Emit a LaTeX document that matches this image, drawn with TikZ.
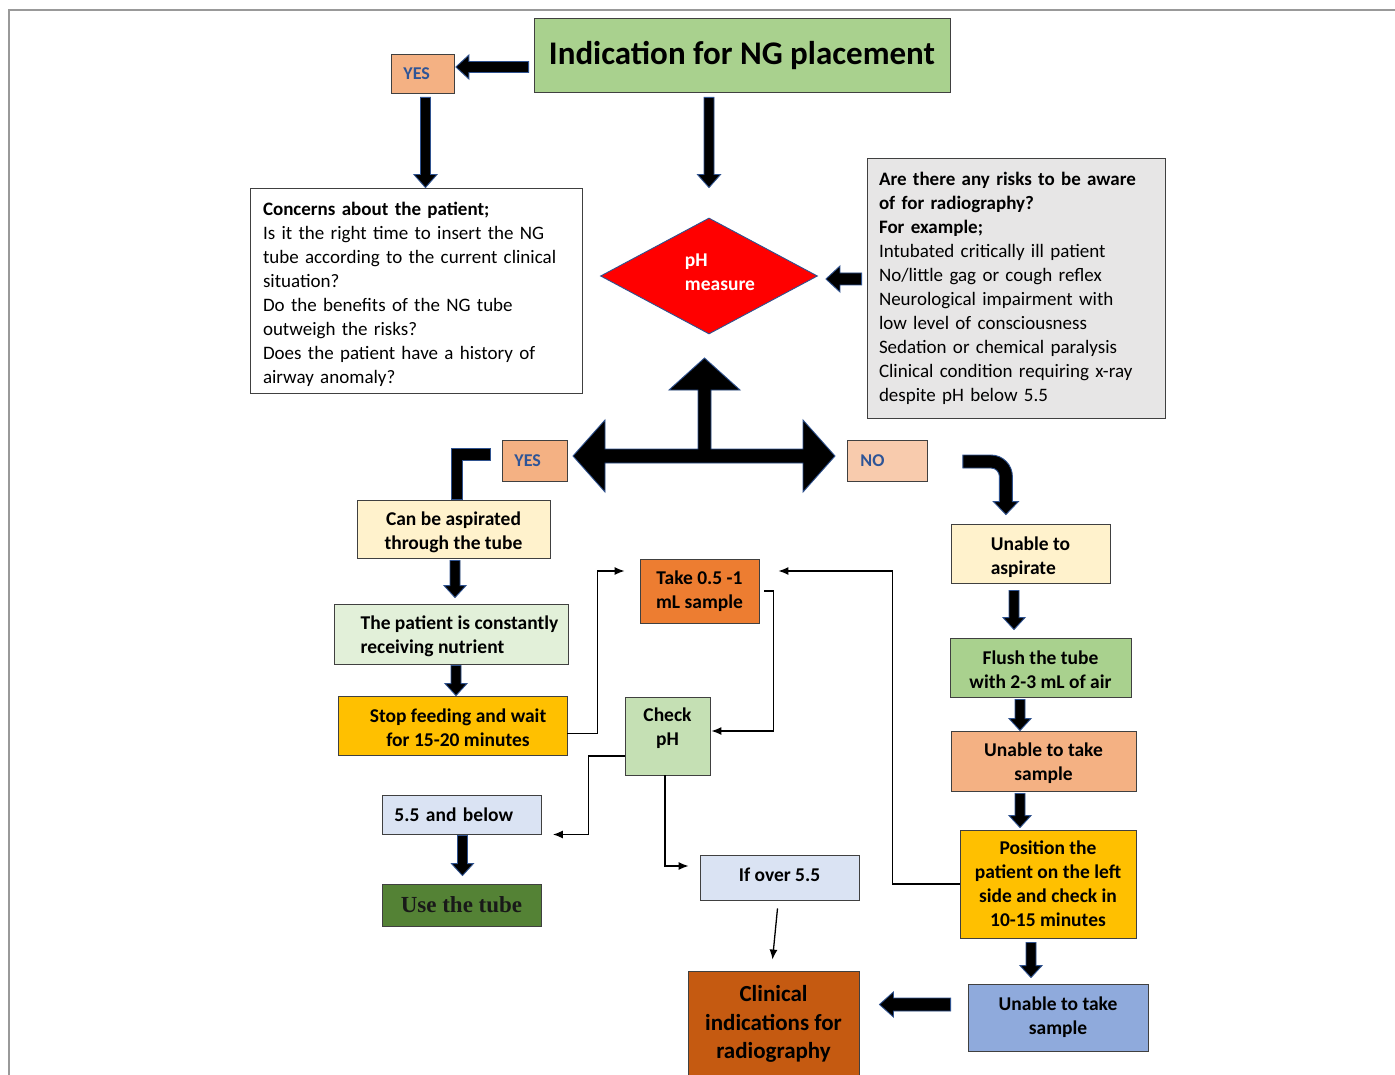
\documentclass[tikz,border=0pt]{standalone}
\usepackage{fontspec}
\setmainfont{Carlito}
\newfontfamily\serifbold{Liberation Serif}
\usetikzlibrary{calc,shapes.geometric,arrows.meta}
\definecolor{cTitle}{HTML}{A9D18E}
\definecolor{cOr1}{HTML}{F4B183}
\definecolor{cPeach}{HTML}{F8CBAD}
\definecolor{cCream}{HTML}{FFF2CC}
\definecolor{cLGreen}{HTML}{E2F0D9}
\definecolor{cGold}{HTML}{FFC000}
\definecolor{cOrange}{HTML}{ED7D31}
\definecolor{cCheck}{HTML}{C5E0B4}
\definecolor{cPale}{HTML}{DAE3F3}
\definecolor{cDGreen}{HTML}{548235}
\definecolor{cRust}{HTML}{C55A11}
\definecolor{cBlue}{HTML}{8FAADC}
\definecolor{cGray}{HTML}{E7E6E6}
\definecolor{cArr}{HTML}{2F528F}
\definecolor{cYN}{HTML}{2F5597}
\newcommand\darr[5]{\draw[blk] let \p1=(#1), \p2=(#2) in (\x1-#3pt,\y1) -- (\x1-#3pt,\y2+#5pt) -- (\x1-#4pt,\y2+#5pt) -- (\x1,\y2) -- (\x1+#4pt,\y2+#5pt) -- (\x1+#3pt,\y2+#5pt) -- (\x1+#3pt,\y1) -- cycle;}
\newcommand\larr[5]{\draw[blk] let \p1=(#1), \p2=(#2) in (\x1,\y1+#3pt) -- (\x2+#5pt,\y1+#3pt) -- (\x2+#5pt,\y1+#4pt) -- (\x2,\y1) -- (\x2+#5pt,\y1-#4pt) -- (\x2+#5pt,\y1-#3pt) -- (\x1,\y1-#3pt) -- cycle;}
\begin{document}
\begin{tikzpicture}[x=1pt,y=-1pt,
 bx/.style={draw=black!75, line width=0.9pt, inner sep=0pt, align=center, font=\bfseries\fontsize{19.5}{24}\selectfont},
 wh/.style 2 args={minimum width=#1pt, minimum height=#2pt},
 yn/.style={draw=black!75, line width=0.9pt, inner xsep=12pt, inner ysep=0pt, text=cYN, font=\bfseries\fontsize{18}{22}\selectfont, anchor=west, align=left},
 blk/.style={fill=black, draw=cArr, line width=0.9pt, line join=miter},
 con/.style={draw=black, line width=1.3pt, -{Latex[length=10pt,width=8pt]}},
 txtbox/.style={draw=black!75, line width=0.9pt, inner ysep=0pt, align=left, font=\fontsize{19}{24}\selectfont}
]
\useasboundingbox (0,0) rectangle (1395,1075);
\fill[white] (0,0) rectangle (1395,1075);
\draw[black!40, line width=2pt] (9,1075) -- (9,10) -- (1395,10);

% nodes
\node[bx, fill=cTitle, wh={416}{74}, font=\bfseries\fontsize{33}{40}\selectfont] (title) at (742,55) {Indication for NG placement};
\node[yn, fill=cOr1, text width=39pt, minimum height=39pt] (yes1) at (391,73.5) {YES};
\node[txtbox, fill=white, inner xsep=13pt, text width=306pt, minimum height=205pt] (concern) at (416,290.5)
 {\textbf{\rule{0pt}{21pt}Concerns about the patient;}\\Is it the right time to insert the NG\\tube according to the current clinical\\situation?\\Do the benefits of the NG tube\\outweigh the risks?\\Does the patient have a history of\\airway anomaly?};
\node[diamond, draw=cArr, fill=red, line width=0.9pt, aspect=1.87, minimum width=217pt, minimum height=116pt, inner sep=0pt] (ph) at (709,276) {};
\node[text=white, align=left, inner sep=0pt, font=\bfseries\fontsize{19.5}{24}\selectfont] (phtext) at (720,272) {pH\\measure};
\node[txtbox, fill=cGray, inner xsep=12pt, text width=274pt, minimum height=260pt] (risks) at (1016,288)
 {\textbf{Are there any risks to be aware}\\\textbf{of for radiography?}\\\textbf{For example;}\\Intubated critically ill patient\\No/little gag or cough reflex\\Neurological impairment with\\low level of consciousness\\Sedation or chemical paralysis\\Clinical condition requiring x-ray\\despite pH below 5.5};
\coordinate (hub) at (704.5,456);
\node[yn, fill=cOr1, text width=41pt, minimum height=41pt] (yes2) at (502,460.5) {YES};
\node[yn, fill=cPeach, inner xsep=13pt, text width=54pt, minimum height=41pt] (no) at (847,460.5) {NO};

\node[bx, fill=cCream, wh={193}{58}] (can) at (453.5,529) {\rule{0pt}{20.5pt}Can be aspirated\\through the tube};
\node[bx, fill=cLGreen, wh={234}{60}, align=left] (patient) at (451,634) {\hspace*{17pt}\rule{0pt}{19pt}The patient is constantly\\\hspace*{17pt}receiving nutrient};
\node[bx, fill=cGold, wh={229}{59}] (stop) at (452.5,725.5) {\hspace*{11pt}\rule{0pt}{19pt}Stop feeding and wait\\\hspace*{11pt}for 15-20 minutes};
\node[bx, fill=cOrange, wh={119}{64}] (take) at (699.5,591) {Take 0.5 -1\\mL sample};
\node[bx, fill=cCheck, wh={85}{78}, text depth=18pt] (check) at (667.5,736) {Check\\pH};
\node[bx, fill=cPale, anchor=west, inner xsep=12pt, text width=135pt, align=left, minimum height=39pt] (below) at (382,814.5) {5.5 and below};
\node[bx, fill=cDGreen, wh={159}{42}, font=\serifbold\bfseries\fontsize{23}{26}\selectfont, text=black!90] (usetube) at (461.5,905) {Use the tube};
\node[bx, fill=cPale, wh={159}{45}, text depth=6pt] (over) at (779.5,877.5) {If over 5.5};
\node[bx, fill=cRust, wh={171}{106}, font=\bfseries\fontsize{23}{28.5}\selectfont] (clinical) at (773.5,1024) {Clinical\\indications for\\radiography};

\node[bx, fill=cCream, wh={159}{59}, align=left] (ua) at (1030.5,553.5) {\rule{0pt}{22pt}Unable to\\aspirate};
\node[bx, fill=cTitle, wh={181}{59}] (flush) at (1040.5,667.5) {\rule{0pt}{18.5pt}Flush the tube\\with 2-3 mL of air};
\node[bx, fill=cOr1, wh={185}{60}] (ut1) at (1043.5,761) {\rule{0pt}{18.5pt}Unable to take\\sample};
\node[bx, fill=cGold, wh={176}{108}] (pos) at (1048,884) {Position the\\patient on the left\\side and check in\\10-15 minutes};
\node[bx, fill=cBlue, wh={180}{67}] (ut2) at (1058,1017.5) {Unable to take\\sample};

% block arrows
\larr{$(title.west)+(-5,12)$}{$(yes1.east)+(1,0)$}{5.5}{12}{13}
\darr{$(yes1.south)+(2.5,4)$}{concern.north}{5}{11.5}{13}
\darr{$(title.south)+(-33,5)$}{$(ph.north)+(0,-30)$}{5}{11.5}{13}
\larr{$(risks.west)+(-5,-9)$}{$(ph.east)+(8,0)$}{6}{13}{14}
\draw[blk, shift={(hub)}] (-131.5,0) -- (-99.5,-36) -- (-99.5,-7) -- (-6.5,-7) -- (-6.5,-66) -- (-35.5,-66) -- (0,-98) -- (35.5,-66) -- (6.5,-66) -- (6.5,-7) -- (98.5,-7) -- (98.5,-36) -- (130.5,0) -- (98.5,36) -- (98.5,7) -- (-99.5,7) -- (-99.5,36) -- cycle;
\draw[blk] let \p1=($(yes2.west)+(-12,0)$), \p2=(can.north) in (\x1,\y1+12.5pt) -- (\x2-2.5pt,\y1+12.5pt) -- (\x2-2.5pt,\y2) -- (\x2+8.5pt,\y2) -- (\x2+8.5pt,\y1+0.5pt) -- (\x1,\y1+0.5pt) -- cycle;
\draw[blk] let \p1=(no.east), \p2=(ua.north) in (\x1+35pt,\y1+5.5pt) -- (\x1+63pt,\y1+5.5pt) arc[start angle=90,end angle=0,radius=21.5pt] -- (\x1+84.5pt,\y2+22pt) -- (\x1+90.5pt,\y2+22pt) -- (\x1+78pt,\y2+9pt) -- (\x1+65.5pt,\y2+22pt) -- (\x1+71.5pt,\y2+22pt) -- (\x1+71.5pt,\y1-16pt) arc[start angle=0,end angle=90,radius=8.5pt] -- (\x1+35pt,\y1-7.5pt) -- cycle;
\darr{$(can.south)+(1.5,2)$}{$(patient.north)+(0,-6)$}{5}{11}{12}
\darr{$(patient.south)+(5,1)$}{stop.north}{5}{11}{12}
\darr{$(below.south)+(0.5,1)$}{$(usetube.north)+(0,-8)$}{5}{11}{12}
\darr{$(ua.south)+(-16.5,7)$}{$(flush.north)+(0,-8)$}{5}{11}{12}
\darr{$(flush.south)+(-20.5,2)$}{ut1.north}{5}{11}{12}
\darr{$(ut1.south)+(-23.5,2)$}{$(pos.north)+(0,-2)$}{5}{11}{12}
\darr{$(pos.south)+(-17,4)$}{$(ut2.north)+(0,-6)$}{5}{11}{12}
\larr{$(ut2.west)+(-17,-13)$}{$(clinical.east)+(20,0)$}{6.5}{12.5}{14}

% thin connectors
\draw[con] ($(stop.east)+(0,8)$) -- ++(30,0) |- ($(take.west)+(-15,-20)$);
\draw[con] ($(take.east)+(5,0)$) -- ++(9,0) |- ($(check.east)+(1,-5)$);
\draw[con] ($(check.west)+(0,20)$) -- ++(-36,0) |- ($(below.east)+(11,20)$);
\draw[con] ($(check.south)+(-2.5,0)$) |- ($(over.west)+(-11,-11.5)$);
\draw[con] ($(over.south)+(-2,8)$) -- ($(clinical.north)+(-1,-11)$);
\draw[con] (pos.west) -- ++(-67,0) |- ($(take.east)+(19,-20)$);
\end{tikzpicture}
\end{document}
